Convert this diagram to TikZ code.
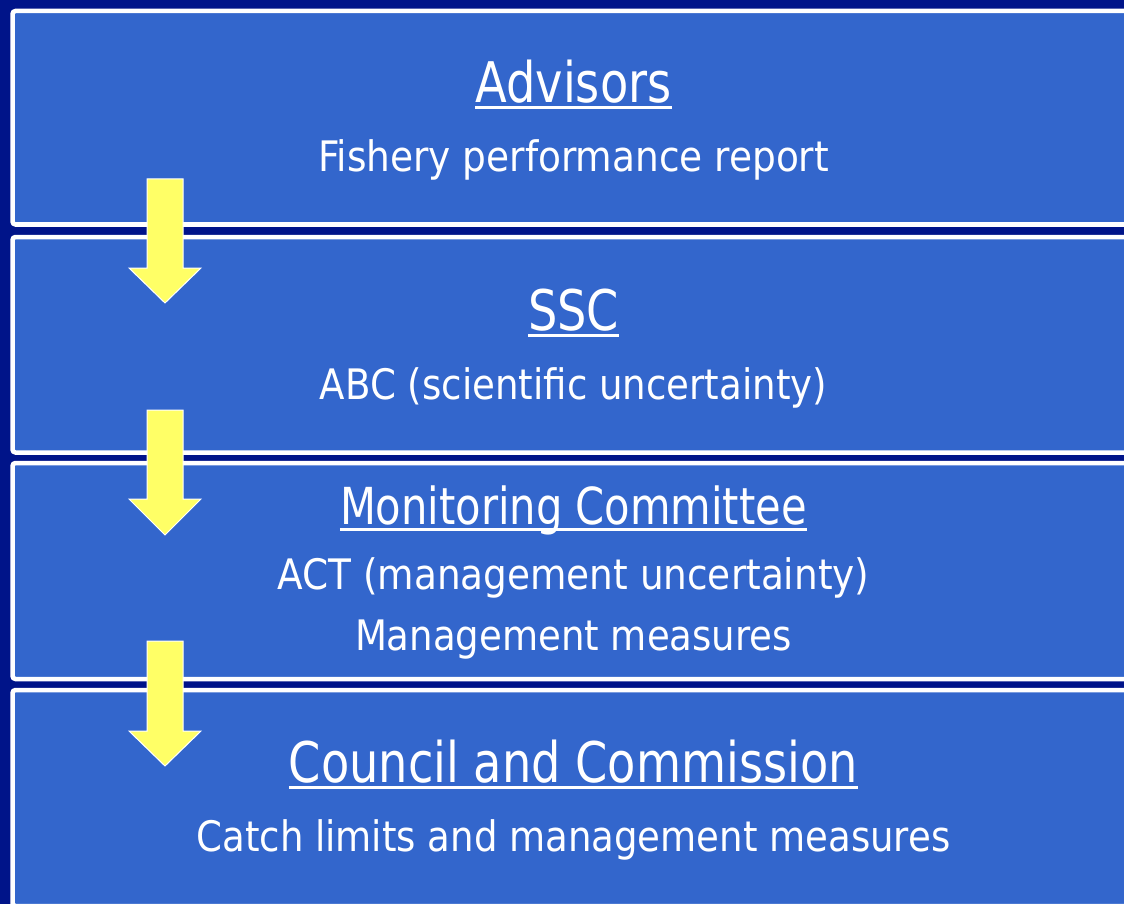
\documentclass[tikz,border=0pt]{standalone}
\usepackage{fontspec}
\setmainfont{DejaVu Sans Condensed}
\usepackage{graphicx}
\definecolor{navy}{HTML}{001489}
\definecolor{boxblue}{HTML}{3366CC}
\definecolor{arrowyellow}{HTML}{FFFF66}
\tikzset{
  panel/.style={draw=white, line width=4.5pt, fill=boxblue, rounded corners=3pt},
  downarrow/.style={fill=arrowyellow, draw=white, line width=1pt, line join=miter},
  head/.style={anchor=base, inner sep=0pt, text=white, font=\fontsize{56}{60}\selectfont},
  midhead/.style={anchor=base, inner sep=0pt, text=white, font=\fontsize{51}{56}\selectfont},
  body/.style={anchor=base, inner sep=0pt, text=white, font=\fontsize{42}{48}\selectfont},
  uline/.style={draw=white, line width=3pt}
}
\newcommand\wfit[2]{\resizebox{#1}{\height}{#2}}
\begin{document}
\begin{tikzpicture}[x=1pt, y=-1pt]
\useasboundingbox (0,0) rectangle (1124,904);
\fill[navy] (0,0) rectangle (1124,904);
% panels
\draw[panel] (12.5,11) rectangle (1140,224.5);
\draw[panel] (12.5,237) rectangle (1140,452.5);
\draw[panel] (12.5,463) rectangle (1140,679);
\draw[panel] (12.5,690) rectangle (1140,906);
% arrows
\foreach \top/\base/\tip in {179/268/303, 410/499/535, 641/731/766}{
  \draw[downarrow] (147,\top) -- (183,\top) -- (183,\base) -- (201,\base) -- (165,\tip)
     -- (129,\base) -- (147,\base) -- cycle;
}
% texts
\node[head] (h1) at (573.5,103) {\wfit{196pt}{Advisors}};
\draw[uline] ([yshift=-5pt]h1.base west) -- ([yshift=-5pt]h1.base east);
\node[body] (t1) at (573.5,172) {\wfit{511pt}{Fishery performance report}};

\node[head] (h2) at (573.5,330) {\wfit{91pt}{SSC}};
\draw[uline] ([yshift=-5pt]h2.base west) -- ([yshift=-5pt]h2.base east);
\node[body] (t2) at (573.5,399) {\wfit{507pt}{ABC (scientific uncertainty)}};

\node[midhead] (h3) at (573.5,524) {\wfit{467pt}{Monitoring Committee}};
\draw[uline] ([yshift=-5pt]h3.base west) -- ([yshift=-5pt]h3.base east);
\node[body] (t3) at (573.5,589) {\wfit{592pt}{ACT (management uncertainty)}};
\node[body] (t4) at (573.5,650) {\wfit{437pt}{Management measures}};

\node[head] (h4) at (573.5,782) {\wfit{569pt}{Council and Commission}};
\draw[uline] ([yshift=-5pt]h4.base west) -- ([yshift=-5pt]h4.base east);
\node[body] (t5) at (573.5,851) {\wfit{754pt}{Catch limits and management measures}};
\end{tikzpicture}
\end{document}
